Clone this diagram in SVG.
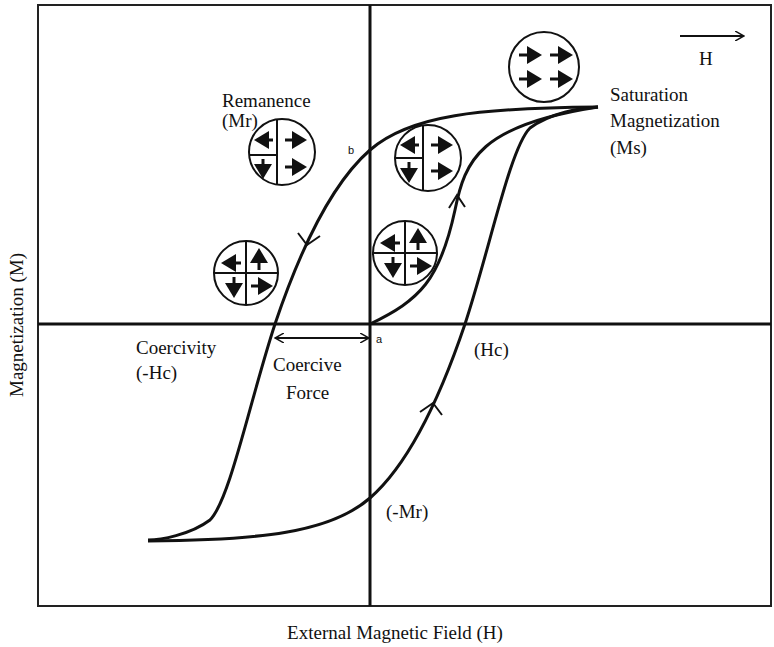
<svg xmlns="http://www.w3.org/2000/svg" width="774" height="647" viewBox="0 0 774 647">
<style>
text{font-family:"Liberation Serif","Times New Roman","DejaVu Serif",serif;font-size:19px;fill:#111}
.s{font-family:"Liberation Sans",Arial,sans-serif;font-size:11px}
.ln{fill:none;stroke:#111;stroke-width:3}
.c{fill:#fff;stroke:#111;stroke-width:2}
.d{stroke:#111;stroke-width:2;fill:none}
.a{stroke:#111;stroke-width:3;fill:none;marker-end:url(#ah)}
.ch{fill:none;stroke:#111;stroke-width:2}
</style>
<defs>
<marker id="ah" markerWidth="6" markerHeight="6" refX="4" refY="3" orient="auto" markerUnits="strokeWidth"><path d="M0,0 L5,3 L0,6 z" fill="#111"/></marker>
<marker id="ap" markerWidth="10" markerHeight="10" refX="8" refY="5" orient="auto" markerUnits="userSpaceOnUse"><path d="M0,0 L9,5 L0,10" fill="none" stroke="#111" stroke-width="1.5"/></marker>
<marker id="as" markerWidth="10" markerHeight="10" refX="2" refY="5" orient="auto" markerUnits="userSpaceOnUse"><path d="M10,0 L1,5 L10,10" fill="none" stroke="#111" stroke-width="1.5"/></marker>
</defs>
<rect x="38" y="5" width="733" height="601" fill="none" stroke="#222" stroke-width="2"/>
<g id="axes">
<line x1="370" y1="5" x2="370" y2="606" stroke="#111" stroke-width="3"/>
<line x1="38" y1="324" x2="771" y2="324" stroke="#111" stroke-width="3"/>
</g>
<g id="connectors">
<path class="ln" d="M598,107 C480,108 410,115 370,150 C330,185 300,250 275,324 C250,400 230,500 210,520 C190,535 160,540 148,540"/>
<path class="ln" d="M148,541 C260,540 330,533 370,498 C410,463 440,398 465,324 C490,248 510,148 530,128 C550,113 580,108 598,107"/>
<path class="ln" d="M370,324 C420,300 440,280 455,210 C465,160 480,125 598,107"/>
<path class="ch" d="M298,233 L307,245 L320,236"/>
<path class="ch" d="M442,415 L433,403 L420,412"/>
<path class="ch" d="M449,208 L457,195 L465,207"/>
<line x1="276" y1="338" x2="368" y2="338" stroke="#111" stroke-width="2" marker-start="url(#as)" marker-end="url(#ap)"/>
<line x1="680" y1="36" x2="743" y2="36" stroke="#111" stroke-width="2" marker-end="url(#ap)"/>
</g>
<g id="circleMr" transform="translate(282,152)">
<circle class="c" r="33"/><line class="d" x1="-5" y1="-33" x2="-5" y2="33"/><line class="d" x1="-33" y1="3" x2="-5" y2="3"/>
<line class="a" x1="-9" y1="-12" x2="-25" y2="-12"/><line class="a" x1="3" y1="-12" x2="22" y2="-12"/>
<line class="a" x1="-19" y1="7" x2="-19" y2="24"/><line class="a" x1="3" y1="15" x2="22" y2="15"/>
</g>
<g id="circleB" transform="translate(428,158)">
<circle class="c" r="33"/><line class="d" x1="-5" y1="-33" x2="-5" y2="33"/><line class="d" x1="-33" y1="0" x2="-5" y2="0"/>
<line class="a" x1="-9" y1="-13" x2="-25" y2="-13"/><line class="a" x1="3" y1="-13" x2="22" y2="-13"/>
<line class="a" x1="-19" y1="4" x2="-19" y2="22"/><line class="a" x1="3" y1="13" x2="22" y2="13"/>
</g>
<g id="circleC" transform="translate(405,253)">
<circle class="c" r="32"/><line class="d" x1="0" y1="-32" x2="0" y2="32"/><line class="d" x1="-32" y1="0" x2="32" y2="0"/>
<line class="a" x1="-5" y1="-10" x2="-22" y2="-10"/><line class="a" x1="13" y1="-3" x2="13" y2="-22"/>
<line class="a" x1="-12" y1="4" x2="-12" y2="22"/><line class="a" x1="5" y1="13" x2="24" y2="13"/>
</g>
<g id="circleD" transform="translate(246,273)">
<circle class="c" r="32"/><line class="d" x1="0" y1="-32" x2="0" y2="32"/><line class="d" x1="-32" y1="0" x2="32" y2="0"/>
<line class="a" x1="-5" y1="-10" x2="-22" y2="-10"/><line class="a" x1="13" y1="-3" x2="13" y2="-22"/>
<line class="a" x1="-12" y1="4" x2="-12" y2="22"/><line class="a" x1="5" y1="13" x2="24" y2="13"/>
</g>
<g id="circleSat" transform="translate(544,67)">
<circle class="c" r="35"/>
<line class="a" x1="-25" y1="-12" x2="-5" y2="-12"/><line class="a" x1="6" y1="-12" x2="26" y2="-12"/>
<line class="a" x1="-25" y1="12" x2="-5" y2="12"/><line class="a" x1="6" y1="12" x2="26" y2="12"/>
</g>
<g id="labels">
<text x="222" y="107">Remanence</text>
<text x="222" y="127">(Mr)</text>
<text class="s" x="348" y="154">b</text>
<text class="s" x="376" y="343">a</text>
<text x="610" y="101">Saturation</text>
<text x="610" y="127">Magnetization</text>
<text x="610" y="154">(Ms)</text>
<text x="699" y="65">H</text>
<text x="136" y="354">Coercivity</text>
<text x="136" y="379">(-Hc)</text>
<text x="273" y="371">Coercive</text>
<text x="286" y="399">Force</text>
<text x="474" y="356">(Hc)</text>
<text x="386" y="518">(-Mr)</text>
<text x="395" y="639" text-anchor="middle">External Magnetic Field (H)</text>
<text transform="translate(23,325) rotate(-90)" text-anchor="middle">Magnetization (M)</text>
</g>
</svg>
